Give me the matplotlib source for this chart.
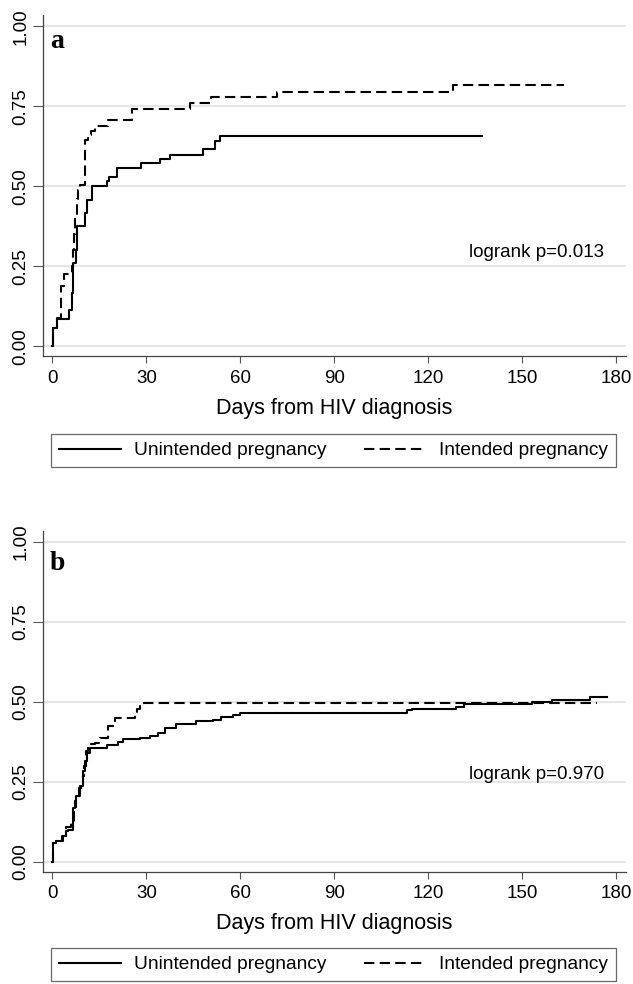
import matplotlib
matplotlib.use('Agg')
import matplotlib.pyplot as plt

plt.rcParams['font.family'] = ['Liberation Sans', 'DejaVu Sans']

# panel a: time to ART start, HIV diagnosed in pregnancy
a_unint_days = [0, 0.3, 1.5, 5.3, 6.2, 6.6, 7.4, 7.8, 10.4, 11.0, 12.6, 17.3, 18.0,
                20.7, 28.3, 34.3, 37.6, 48.1, 51.8, 53.4, 137.3]
a_unint_prob = [0, 0.057, 0.086, 0.115, 0.168, 0.26, 0.30, 0.375, 0.417, 0.458, 0.50,
                0.516, 0.528, 0.557, 0.573, 0.586, 0.599, 0.617, 0.641, 0.658, 0.658]
a_int_days = [0, 0.3, 1.5, 2.8, 3.8, 6.3, 6.6, 7.0, 7.3, 7.8, 8.3, 8.8, 10.5, 11.3,
              12.2, 13.5, 17.8, 25.3, 43.9, 50.5, 71.8, 128.0, 163.3]
a_int_prob = [0, 0.057, 0.09, 0.19, 0.225, 0.25, 0.30, 0.35, 0.41, 0.46, 0.49, 0.505,
              0.646, 0.661, 0.672, 0.688, 0.708, 0.742, 0.76, 0.778, 0.795, 0.816, 0.816]

# panel b
b_unint_days = [0, 0.3, 1.0, 3.3, 4.4, 5.1, 6.7, 7.2, 7.5, 8.8, 9.7, 10.4, 11.0, 12.0,
                17.3, 21.0, 22.6, 27.9, 31.1, 33.8, 35.9, 39.6, 46.0, 51.3, 54.0, 57.6,
                59.8, 113.4, 115.0, 128.8, 131.4, 153.2, 159.6, 171.8, 177.1]
b_unint_prob = [0, 0.06, 0.066, 0.08, 0.097, 0.10, 0.17, 0.19, 0.206, 0.237, 0.284,
                0.315, 0.341, 0.357, 0.365, 0.375, 0.383, 0.388, 0.394, 0.404, 0.419,
                0.43, 0.44, 0.445, 0.452, 0.458, 0.464, 0.474, 0.479, 0.485, 0.492,
                0.4995, 0.506, 0.516, 0.516]
b_int_days = [0, 0.3, 1.0, 3.0, 4.5, 6.0, 6.8, 7.5, 8.5, 9.7, 10.0, 10.6, 11.5, 13.6,
              15.2, 17.8, 20.0, 26.3, 26.9, 27.9, 173.9]
b_int_prob = [0, 0.06, 0.066, 0.08, 0.11, 0.125, 0.17, 0.2, 0.23, 0.27, 0.30, 0.346,
              0.367, 0.372, 0.388, 0.425, 0.45, 0.466, 0.477, 0.497, 0.497]

panels = [
    ('a', a_unint_days, a_unint_prob, a_int_days, a_int_prob, 'logrank p=0.013', 0.292, 0.933),
    ('b', b_unint_days, b_unint_prob, b_int_days, b_int_prob, 'logrank p=0.970', 0.272, 0.912),
]
xticks = [0, 30, 60, 90, 120, 150, 180]
yticks = [0, 0.25, 0.5, 0.75, 1.0]
series_names = ['Unintended pregnancy', 'Intended pregnancy']

fig = plt.figure(figsize=(6.33, 9.84), dpi=100)
W, H = 633, 984
# axes boxes in pixels: (top, bottom)
boxes = [(15, 356), (530.7, 871.5)]
legend_boxes = [(431, 470), (946, 983)]
left_px, right_px = 42.7, 626

for (label, ud, up, idays, ip, lr, lr_y, lab_y), (top, bot), (lt, lb) in zip(panels, boxes, legend_boxes):
    ax = fig.add_axes([left_px / W, 1 - bot / H, (right_px - left_px) / W, (bot - top) / H])
    ax.set_xlim(-3.1, 183.2)
    ax.set_ylim(-0.03, 1.035)
    for yv in yticks:
        ax.axhline(yv, color='#e6e6e6', lw=1.5, zorder=0)
    l1, = ax.step(ud, up, where='post', color='black', lw=1.5, label=series_names[0])
    l2, = ax.step(idays, ip, where='post', color='black', lw=1.5,
                  linestyle=(0, (5, 2.5)), label=series_names[1])
    ax.set_xticks(xticks)
    ax.set_yticks(yticks)
    ax.set_yticklabels(['%.2f' % v for v in yticks], rotation=90, va='center')
    ax.tick_params(axis='x', length=5, width=0.8, color='#555555', pad=5, labelsize=13.5)
    ax.tick_params(axis='y', length=7.5, width=0.8, color='#555555', pad=2, labelsize=13.5)
    for s in ['top', 'right']:
        ax.spines[s].set_visible(False)
    for s in ['left', 'bottom']:
        ax.spines[s].set_color('#444444')
        ax.spines[s].set_linewidth(0.9)
    ax.set_xlabel('Days from HIV diagnosis', fontsize=15.5, labelpad=8)
    ax.text(154.5, lr_y, lr, fontsize=13.5, ha='center', va='center')
    ax.text(-0.8, lab_y, label, fontsize=20, fontweight='bold',
            family='Liberation Serif', ha='left', va='baseline')

    leg = fig.legend([l1, l2], series_names, ncol=2, mode='expand', loc='center',
                     bbox_to_anchor=(51.4 / W, 1 - lb / H, (616 - 51.4) / W, (lb - lt) / H),
                     borderaxespad=0, fancybox=False, fontsize=13.8, handlelength=3.2,
                     borderpad=0.42, handletextpad=0.7, columnspacing=2.0)
    leg.get_frame().set_edgecolor('#444444')
    leg.get_frame().set_linewidth(0.9)

fig.savefig('out.png', dpi=100)
